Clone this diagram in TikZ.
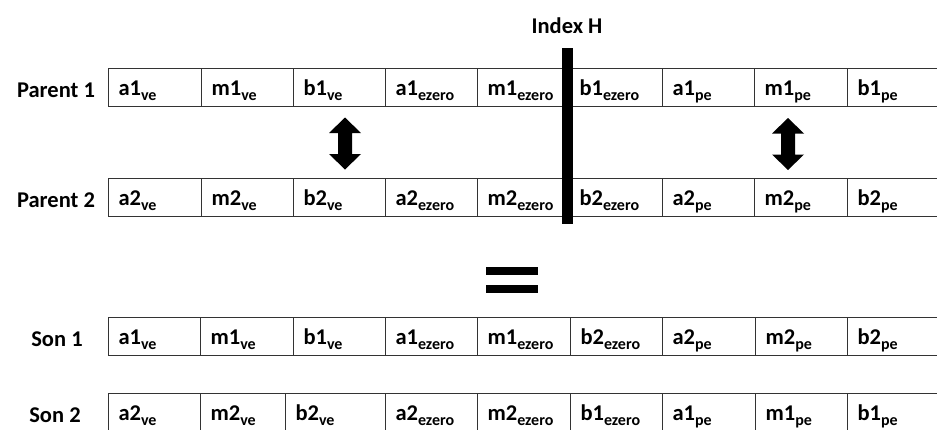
\documentclass[tikz,border=0pt]{standalone}
\usepackage{fontspec}
\setmainfont{Carlito}
\newcommand{\gn}[2]{#1\raisebox{-4.5pt}{\fontsize{16}{16}\selectfont #2}}
\tikzset{
  cell/.style={draw=black!80, line width=1.1pt, anchor=north west, minimum height=38pt,
    inner xsep=10pt, inner ysep=0pt, align=left, text height=16pt, text depth=0pt,
    font=\bfseries\fontsize{22.5}{25}\selectfont},
  lbl/.style={anchor=base, inner sep=0pt, font=\bfseries\fontsize{22.5}{25}\selectfont},
}
\begin{document}
\begin{tikzpicture}[x=1pt,y=-1pt]
\clip (0,0) rectangle (937,429);
% parent 1
\foreach \i/\x/\w/\a/\s [evaluate=\w as \tw using \w-20] in {
  1/108/93/a1/ve, 2/201/92/m1/ve, 3/293/92/b1/ve,
  4/385/92/a1/ezero, 5/477/92/m1/ezero, 6/569/93/b1/ezero,
  7/662/92/a1/pe, 8/754/93/m1/pe, 9/847/92/b1/pe
} {
  \node[cell, minimum width=\w pt, text width=\tw pt] (pa\i) at (\x,68) {\gn{\a}{\s}};
}
% parent 2
\foreach \i/\x/\w/\a/\s [evaluate=\w as \tw using \w-20] in {
  1/108/93/a2/ve, 2/201/92/m2/ve, 3/293/92/b2/ve,
  4/385/92/a2/ezero, 5/477/92/m2/ezero, 6/569/93/b2/ezero,
  7/662/92/a2/pe, 8/754/93/m2/pe, 9/847/92/b2/pe
} {
  \node[cell, minimum width=\w pt, text width=\tw pt] (pb\i) at (\x,178) {\gn{\a}{\s}};
}
% son 1
\foreach \i/\x/\w/\a/\s [evaluate=\w as \tw using \w-20] in {
  1/108/92/a1/ve, 2/200/93/m1/ve, 3/293/92/b1/ve,
  4/385/92/a1/ezero, 5/477/93/m1/ezero, 6/570/92/b2/ezero,
  7/662/93/a2/pe, 8/755/92/m2/pe, 9/847/92/b2/pe
} {
  \node[cell, minimum width=\w pt, text width=\tw pt] (sa\i) at (\x,317) {\gn{\a}{\s}};
}
% son 2
\foreach \i/\x/\w/\a/\s [evaluate=\w as \tw using \w-20] in {
  1/108/92/a2/ve, 2/200/85/m2/ve, 3/285/100/b2/ve,
  4/385/92/a2/ezero, 5/477/93/m2/ezero, 6/570/92/b1/ezero,
  7/662/93/a1/pe, 8/755/92/m1/pe, 9/847/92/b1/pe
} {
  \node[cell, minimum width=\w pt, text width=\tw pt] (sb\i) at (\x,393) {\gn{\a}{\s}};
}
% row names
\node[lbl] (par1) at (56,97) {Parent 1};
\node[lbl] (par2) at (56,207) {Parent 2};
\node[lbl] (son1) at (57,346) {Son 1};
\node[lbl] (son2) at (55,422) {Son 2};
% index H
\node[fill=black, inner sep=0pt, minimum width=11pt, minimum height=176pt, anchor=north] (idx) at (567.5,48) {};
\node[lbl] (idxlbl) at (567,33) {Index H};
% swap arrows
\foreach \cx/\cy in {345/143.5, 788/144} {
  \fill (\cx,\cy-26) -- (\cx+16,\cy-10.5) -- (\cx+7,\cy-10.5) -- (\cx+7,\cy+10.5)
    -- (\cx+16,\cy+10.5) -- (\cx,\cy+26) -- (\cx-16,\cy+10.5) -- (\cx-7,\cy+10.5)
    -- (\cx-7,\cy-10.5) -- (\cx-16,\cy-10.5) -- cycle;
}
% equals
\fill (486,267) rectangle (538,275);
\fill (486,285) rectangle (538,293);
\end{tikzpicture}
\end{document}
